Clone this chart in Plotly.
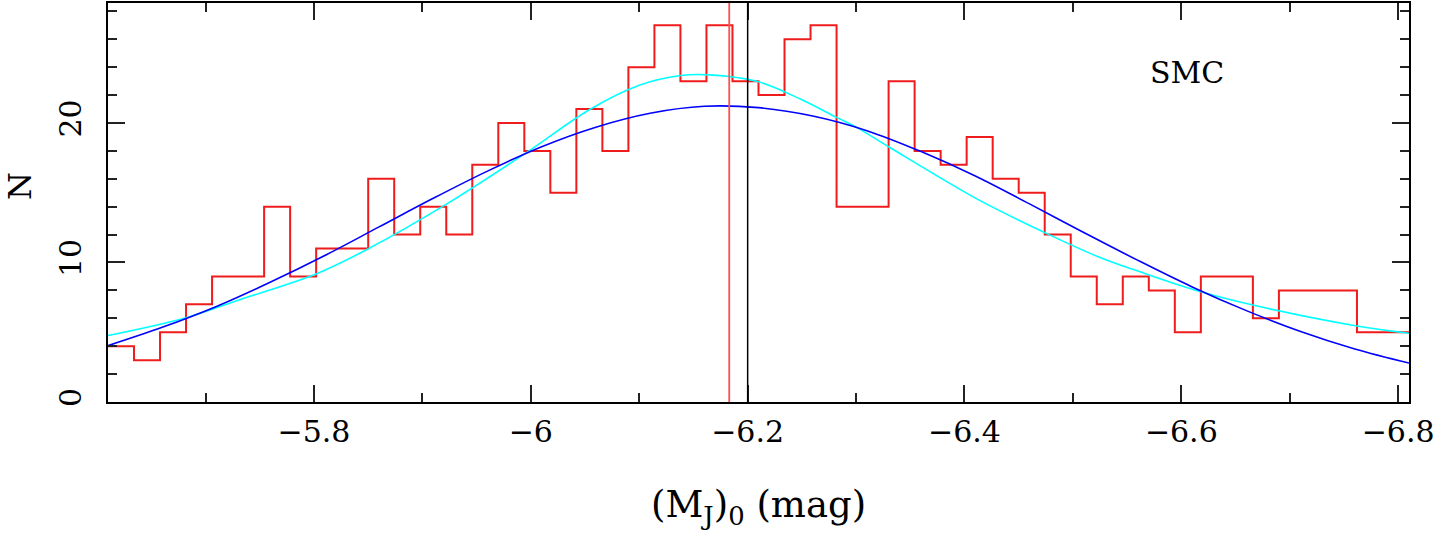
import plotly.graph_objects as go

# histogram of (M_J)_0, SMC sample
bin_start = -5.61
bin_width = 0.024
counts = [4, 3, 5, 7, 9, 9, 14, 9, 11, 11, 16, 12, 14, 12, 17, 20, 18, 15, 21, 18,
          24, 27, 23, 27, 23, 22, 26, 27, 14, 14, 23, 18, 17, 19, 16, 15, 12, 9, 7, 9,
          8, 5, 9, 9, 6, 8, 8, 8, 5, 5]

# fitted curves
blue_mag = [-5.61, -5.66, -5.71, -5.76, -5.81, -5.86, -5.91, -5.96, -6.01, -6.06,
            -6.11, -6.16, -6.21, -6.26, -6.31, -6.36, -6.41, -6.46, -6.51, -6.56,
            -6.61, -6.66, -6.71, -6.76, -6.81]
blue_n = [4.04, 5.35, 6.85, 8.6, 10.5, 12.55, 14.6, 16.55, 18.3, 19.7,
          20.7, 21.2, 21.1, 20.5, 19.45, 17.95, 16.2, 14.2, 12.15, 10.15,
          8.25, 6.55, 5.05, 3.8, 2.79]

cyan_mag = [-5.61, -5.682, -5.73, -5.8025, -5.8505, -5.9225, -5.9945, -6.054, -6.10,
            -6.138, -6.165, -6.21, -6.249, -6.282, -6.30, -6.33, -6.414, -6.476,
            -6.525, -6.562, -6.618, -6.666, -6.762, -6.81]
cyan_n = [4.76, 6.04, 7.3, 9.2, 11.0, 14.2, 17.8, 20.95, 22.7, 23.4, 23.45, 22.95,
          21.7, 20.4, 19.7, 18.3, 14.45, 12.07, 10.36, 9.33, 7.9, 6.95, 5.45, 4.93]

red_line_mag = -6.183
black_line_mag = -6.2

FONT = "DejaVu Serif"

edges = [bin_start - bin_width * k for k in range(len(counts) + 1)]

fig = go.Figure()

fig.add_trace(go.Scatter(x=edges, y=counts + [counts[-1]], mode="lines",
                         line=dict(color="#ee1c1c", width=2, shape="hv"),
                         hoverinfo="skip"))
fig.add_trace(go.Scatter(x=cyan_mag, y=cyan_n, mode="lines",
                         line=dict(color="#00ffff", width=1.6, shape="spline"),
                         hoverinfo="skip"))
fig.add_trace(go.Scatter(x=blue_mag, y=blue_n, mode="lines",
                         line=dict(color="#0000ff", width=1.6, shape="spline"),
                         hoverinfo="skip"))

fig.add_vline(x=red_line_mag, line_color="#ff5050", line_width=1.8)
fig.add_vline(x=black_line_mag, line_color="black", line_width=1.5)

fig.add_annotation(x=-6.605, y=23.6, text="SMC", showarrow=False,
                   font=dict(family=FONT, size=30, color="black"))
fig.add_annotation(x=0.5, y=-0.262, xref="paper", yref="paper",
                   xanchor="center", yanchor="middle",
                   text="(M<sub>J</sub>)<sub>0</sub> (mag)", showarrow=False,
                   font=dict(family=FONT, size=37, color="black"))
fig.add_annotation(x=-0.068, y=0.54, xref="paper", yref="paper", text="N",
                   xanchor="center", yanchor="middle",
                   textangle=-90, showarrow=False,
                   font=dict(family=FONT, size=32, color="black"))

axis_common = dict(
    showgrid=False, zeroline=False, showline=True, linecolor="black", linewidth=2,
    mirror="allticks", ticks="inside", ticklen=17, tickwidth=1.5, tickcolor="#222",
    tickfont=dict(family=FONT, size=30, color="black"), automargin=False,
)

fig.update_xaxes(range=[-5.61, -6.81], tick0=-6, dtick=0.2, ticklabelstandoff=2,
                 minor=dict(dtick=0.1, ticks="inside", ticklen=9, tickwidth=1.5,
                            tickcolor="#222"),
                 **axis_common)
fig.update_yaxes(range=[0, 28.6], tick0=0, dtick=10, tickangle=-90,
                 ticklabelstandoff=13,
                 minor=dict(dtick=2, ticks="inside", ticklen=9, tickwidth=1.5,
                            tickcolor="#222"),
                 **axis_common)

fig.update_layout(width=1442, height=536, showlegend=False,
                  plot_bgcolor="white", paper_bgcolor="white",
                  margin=dict(l=108, r=33, t=3, b=134))

fig.write_html("out.html", config={"displayModeBar": False},
               post_script="document.body.style.margin='0';")
